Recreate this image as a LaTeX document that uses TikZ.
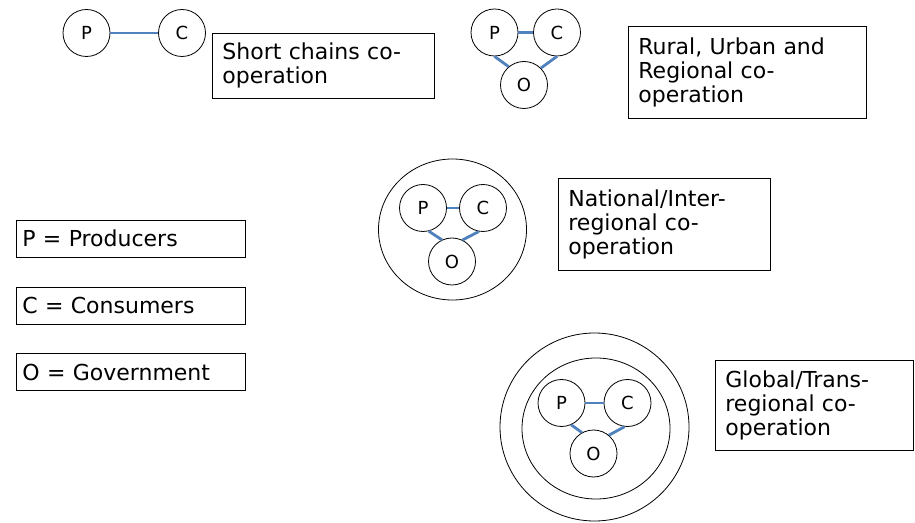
\documentclass[tikz,border=0pt]{standalone}
\usepackage{fontspec}
\setmainfont{DejaVu Sans}
\usetikzlibrary{shapes.geometric}
\definecolor{linkBlue}{HTML}{4F81BD}

\begin{document}
\begin{tikzpicture}[
    x=0.5pt, y=-0.5pt,
    every node/.style={font=\fontsize{11}{12}\selectfont},
    actor/.style={draw, circle, line width=0.4pt, minimum size=23.5pt, inner sep=0pt, font=\fontsize{9}{10}\selectfont},
    link/.style={draw=linkBlue, line width=1.4pt},
    ring/.style={draw, ellipse, line width=0.4pt, inner sep=0pt},
    scopebox/.style={draw, line width=0.4pt, anchor=north west, align=left, inner xsep=5pt, inner ysep=2pt},
    keybox/.style={draw, line width=0.4pt, anchor=west, inner xsep=3pt, minimum width=114.5pt, minimum height=18.5pt, text width=108.5pt, align=left},
]
  \useasboundingbox (0,0) rectangle (915,523);
  % enclosing rings
  \node[ring, minimum width=74pt, minimum height=70.5pt] (ring3) at (452.5,229.5) {};
  \node[ring, minimum width=94.5pt, minimum height=94pt] (outer4) at (594.5,427) {};
  \node[ring, minimum width=74pt, minimum height=70.5pt] (inner4) at (596,428.5) {};
  % actors
  \node[actor] (p1) at (86.5,33) {P};
  \node[actor] (c1) at (182,33) {C};
  \node[actor] (p2) at (494.5,32.5) {P};
  \node[actor] (c2) at (557,32.5) {C};
  \node[actor] (o2) at (524,85) {O};
  \node[actor] (p3) at (423,208) {P};
  \node[actor] (c3) at (483,208) {C};
  \node[actor] (o3) at (452,261.5) {O};
  \node[actor] (p4) at (561.5,403) {P};
  \node[actor] (c4) at (627.5,403) {C};
  \node[actor] (o4) at (593.5,453.5) {O};
  % links
  \draw[link] (p1) -- (c1);
  \draw[link] (p2) -- (c2);
  \draw[link] (p2.south) -- (o2.130);
  \draw[link] (c2.south) -- (o2.45);
  \draw[link] (p3) -- (c3);
  \draw[link] (p3.-76) -- (o3.115);
  \draw[link] (c3.-100) -- (o3.64);
  \draw[link] (p4) -- (c4);
  \draw[link] (p4.-66) -- (o4.119);
  \draw[link] (c4.-97) -- (o4.50);
  % scope labels
  \node[scopebox, text width=101pt, minimum height=32.5pt] (short) at (212,33) {Short chains co-\\operation};
  \node[scopebox, text width=109pt, minimum height=46pt] (rural) at (628,26) {Rural, Urban and\\Regional co-\\operation};
  \node[scopebox, text width=96pt, minimum height=46pt] (national) at (558,178) {National/Inter-\\regional co-\\operation};
  \node[scopebox, text width=89pt, minimum height=45pt] (global) at (715,360) {Global/Trans-\\regional co-\\operation};
  % legend
  \node[keybox] (keyP) at (16,238.5) {P = Producers};
  \node[keybox] (keyC) at (16,305.5) {C = Consumers};
  \node[keybox] (keyO) at (16,372) {O = Government};
\end{tikzpicture}
\end{document}
